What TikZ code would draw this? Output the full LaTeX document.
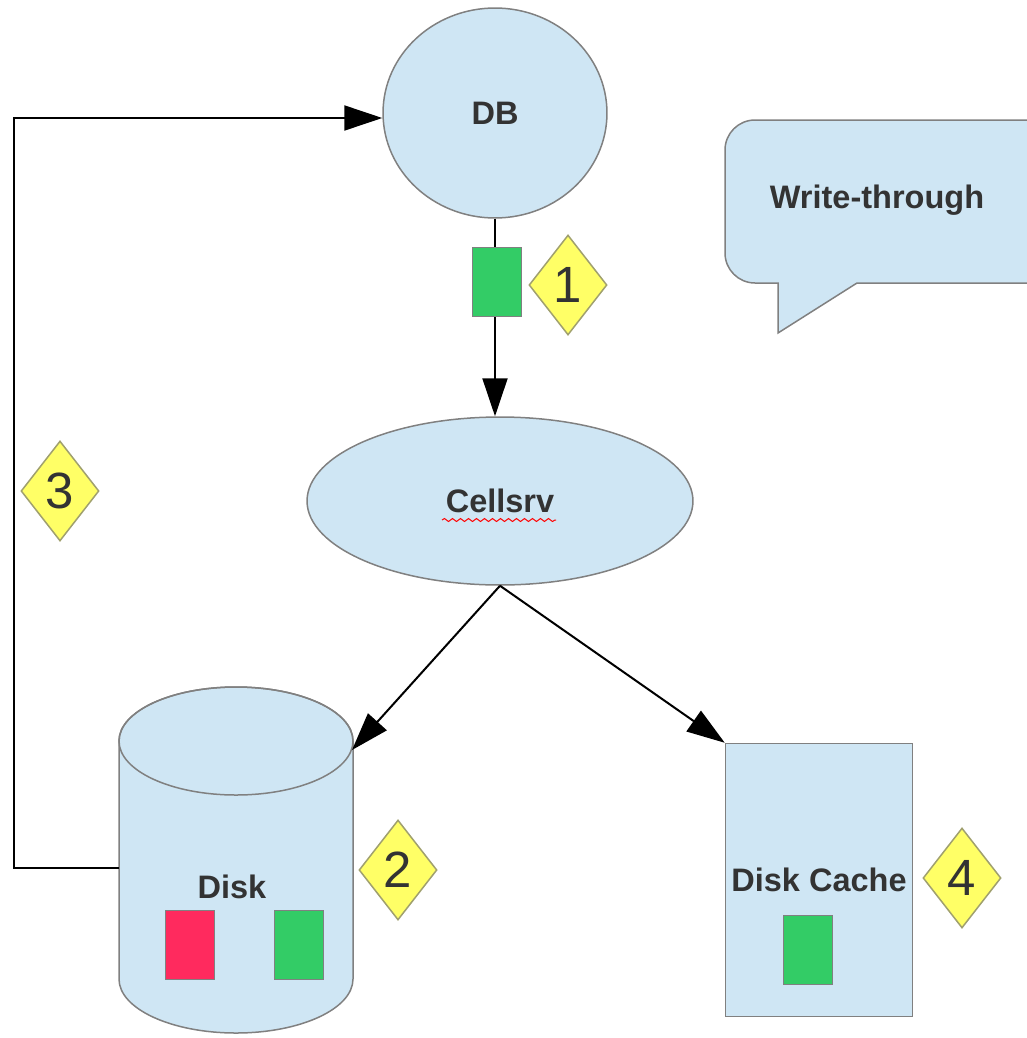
\documentclass[tikz,border=0pt]{standalone}
\usepackage{fontspec}
\setmainfont{Liberation Sans}
\usepackage{xcolor}
\usetikzlibrary{positioning,arrows.meta,shapes,decorations.pathmorphing}
\definecolor{paleblue}{RGB}{207,230,244}
\definecolor{blockgreen}{RGB}{51,204,102}
\definecolor{blockred}{RGB}{255,42,94}
\definecolor{badgeyellow}{RGB}{255,255,102}
\definecolor{badgeline}{RGB}{160,160,110}
\definecolor{labelgray}{RGB}{51,51,51}
\definecolor{edgegray}{RGB}{128,128,128}

\begin{document}
\begin{tikzpicture}[x=0.02cm,y=-0.02cm,
  caption/.style={text=labelgray, font=\fontsize{18.5}{22}\selectfont\bfseries},
  part/.style={caption, fill=paleblue, draw=edgegray, line width=0.03cm},
  block/.style={draw=edgegray, line width=0.03cm, minimum width=0.98cm, minimum height=1.38cm, inner sep=0pt},
  badge/.style={diamond, fill=badgeyellow, draw=badgeline, line width=0.03cm, minimum width=1.56cm, minimum height=2cm, inner sep=0pt, text=labelgray, font=\fontsize{29}{32}\selectfont},
  link/.style={line width=0.04cm, -{Triangle[length=0.76cm,width=0.5cm]}}]
\clip (0,0) rectangle (1027,1038);
\node[part, ellipse, minimum width=4.48cm, minimum height=4.2cm] (db) at (495,113) {DB};
\node[part, ellipse, minimum width=7.72cm, minimum height=3.36cm] (cellsrv) at (500,501) {Cellsrv};
\draw[red, line width=0.02cm, decorate, decoration={snake, amplitude=0.03cm, segment length=0.16cm}] (442,520) -- (556,520);
\filldraw[fill=paleblue, draw=edgegray, line width=0.03cm] (119,741) -- (119,979) arc[start angle=180, end angle=0, x radius=117, y radius=54] -- (353,741) arc[start angle=0, end angle=-180, x radius=117, y radius=54] -- cycle;
\draw[draw=edgegray, line width=0.03cm] (236,741) ellipse[x radius=117, y radius=54];
\node[caption] (disk) at (232,887) {Disk};
\coordinate (diskin) at (352,750);
\coordinate (diskout) at (119,868);
\coordinate (loop) at (14,118);
\node[block, fill=blockred] (diskred) at (190,945) {};
\node[block, fill=blockgreen] (diskgreen) at (299,945) {};
\node[part, minimum width=3.74cm, minimum height=5.46cm, inner sep=0pt] (cache) at (819,880) {Disk Cache};
\node[block, fill=blockgreen] (cachegreen) at (808,950) {};
\draw[link] (db.south) -- (db.south |- cellsrv.north);
\node[block, fill=blockgreen] (blk1) at (497,282) {};
\draw[link] (cellsrv.south) -- (diskin);
\draw[link] (cellsrv.south) -- (cache.north west);
\draw[link] (diskout) -| (loop) -- (db.west |- loop);
\node[badge] (badge1) at (568,285) {1};
\node[badge] (badge2) at (398,870) {2};
\node[badge] (badge3) at (60,491) {3};
\node[badge] (badge4) at (962,878) {4};
\draw[fill=paleblue, draw=edgegray, line width=0.03cm] (1060,200) [rounded corners=0.6cm] -- (1060,120) -- (725,120) -- (725,283) [sharp corners] -- (778,283) -- (778,333) -- (857,283) -- (1060,283) -- cycle;
\node[caption] (bubble) at (877,200) {Write-through};
\end{tikzpicture}
\end{document}
